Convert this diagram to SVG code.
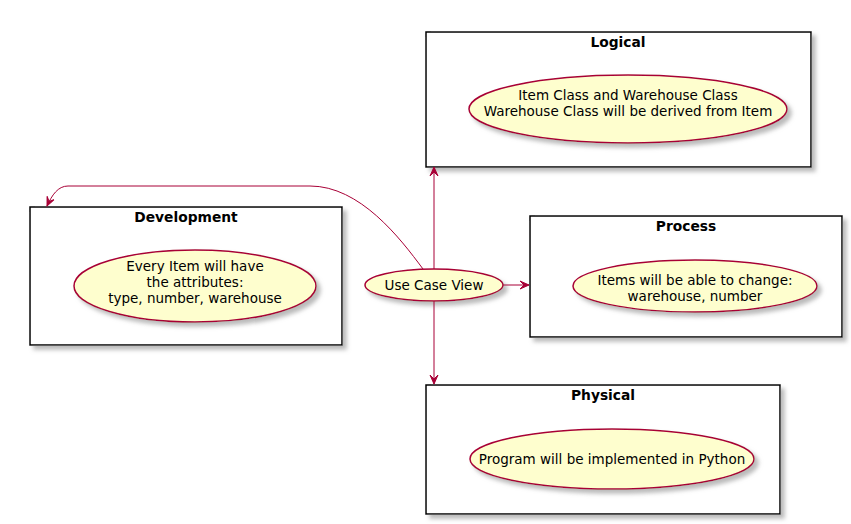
<svg xmlns="http://www.w3.org/2000/svg" width="851" height="524" viewBox="0 0 851 524">
<defs>
<filter id="sh" x="-10%" y="-10%" width="130%" height="140%">
<feGaussianBlur in="SourceAlpha" stdDeviation="2"/>
<feColorMatrix type="matrix" values="0 0 0 0 0.4 0 0 0 0 0.4 0 0 0 0 0.4 0 0 0 0.8 0"/>
<feOffset dx="4" dy="4" result="b"/>
<feMerge><feMergeNode in="b"/><feMergeNode in="SourceGraphic"/></feMerge>
</filter>
<marker id="ah" viewBox="0 0 10 10" refX="9" refY="5" markerWidth="10" markerHeight="10" markerUnits="userSpaceOnUse" orient="auto">
<path d="M0,1 L9,5 L0,9 L4,5 Z" fill="#A80036" stroke="#A80036" stroke-width="1"/>
</marker>
</defs>
<style>
.box{fill:#FFFFFF;stroke:#000000;stroke-width:1.5;filter:url(#sh)}
.uc{fill:#FEFECE;stroke:#A80036;stroke-width:1.5;filter:url(#sh)}
.ttl{font-family:"DejaVu Sans",sans-serif;font-size:13.8px;font-weight:bold;fill:#000;text-anchor:middle}
.t{font-family:"DejaVu Sans",sans-serif;font-size:13.5px;fill:#000;text-anchor:middle}
.c{fill:none;stroke:#A80036;stroke-width:1;marker-end:url(#ah)}
</style>
<g id="logical">
<rect class="box" x="426" y="32" width="385" height="135"/>
<text class="ttl" x="618" y="47">Logical</text>
<ellipse class="uc" cx="628" cy="109" rx="159" ry="34"/>
<text class="t" x="628" y="100">Item Class and Warehouse Class</text>
<text class="t" x="628" y="116">Warehouse Class will be derived from Item</text>
</g>
<g id="development">
<rect class="box" x="30" y="207" width="312" height="138"/>
<text class="ttl" x="186" y="222">Development</text>
<ellipse class="uc" cx="195" cy="286" rx="121" ry="36"/>
<text class="t" x="195" y="271">Every Item will have</text>
<text class="t" x="195" y="287">the attributes:</text>
<text class="t" x="195" y="303">type, number, warehouse</text>
</g>
<g id="process">
<rect class="box" x="530" y="216" width="312" height="121"/>
<text class="ttl" x="686" y="231">Process</text>
<ellipse class="uc" cx="695" cy="286" rx="122" ry="26"/>
<text class="t" x="695" y="285">Items will be able to change:</text>
<text class="t" x="695" y="301">warehouse, number</text>
</g>
<g id="physical">
<rect class="box" x="426" y="385" width="354" height="129"/>
<text class="ttl" x="603" y="400">Physical</text>
<ellipse class="uc" cx="612" cy="459" rx="142" ry="30"/>
<text class="t" x="612" y="464">Program will be implemented in Python</text>
</g>
<g id="usecase">
<ellipse class="uc" cx="434" cy="285" rx="69" ry="16"/>
<text class="t" x="434" y="290">Use Case View</text>
</g>
<g id="connectors">
<path class="c" d="M434,269 L434,167"/>
<path class="c" d="M434,301 L434,384"/>
<path class="c" d="M503,285 L529,285"/>
<path class="c" d="M423,269 C400,238 360,186 310,186 L68,186 C58,186 52,195 47,206"/>
</g>
</svg>
